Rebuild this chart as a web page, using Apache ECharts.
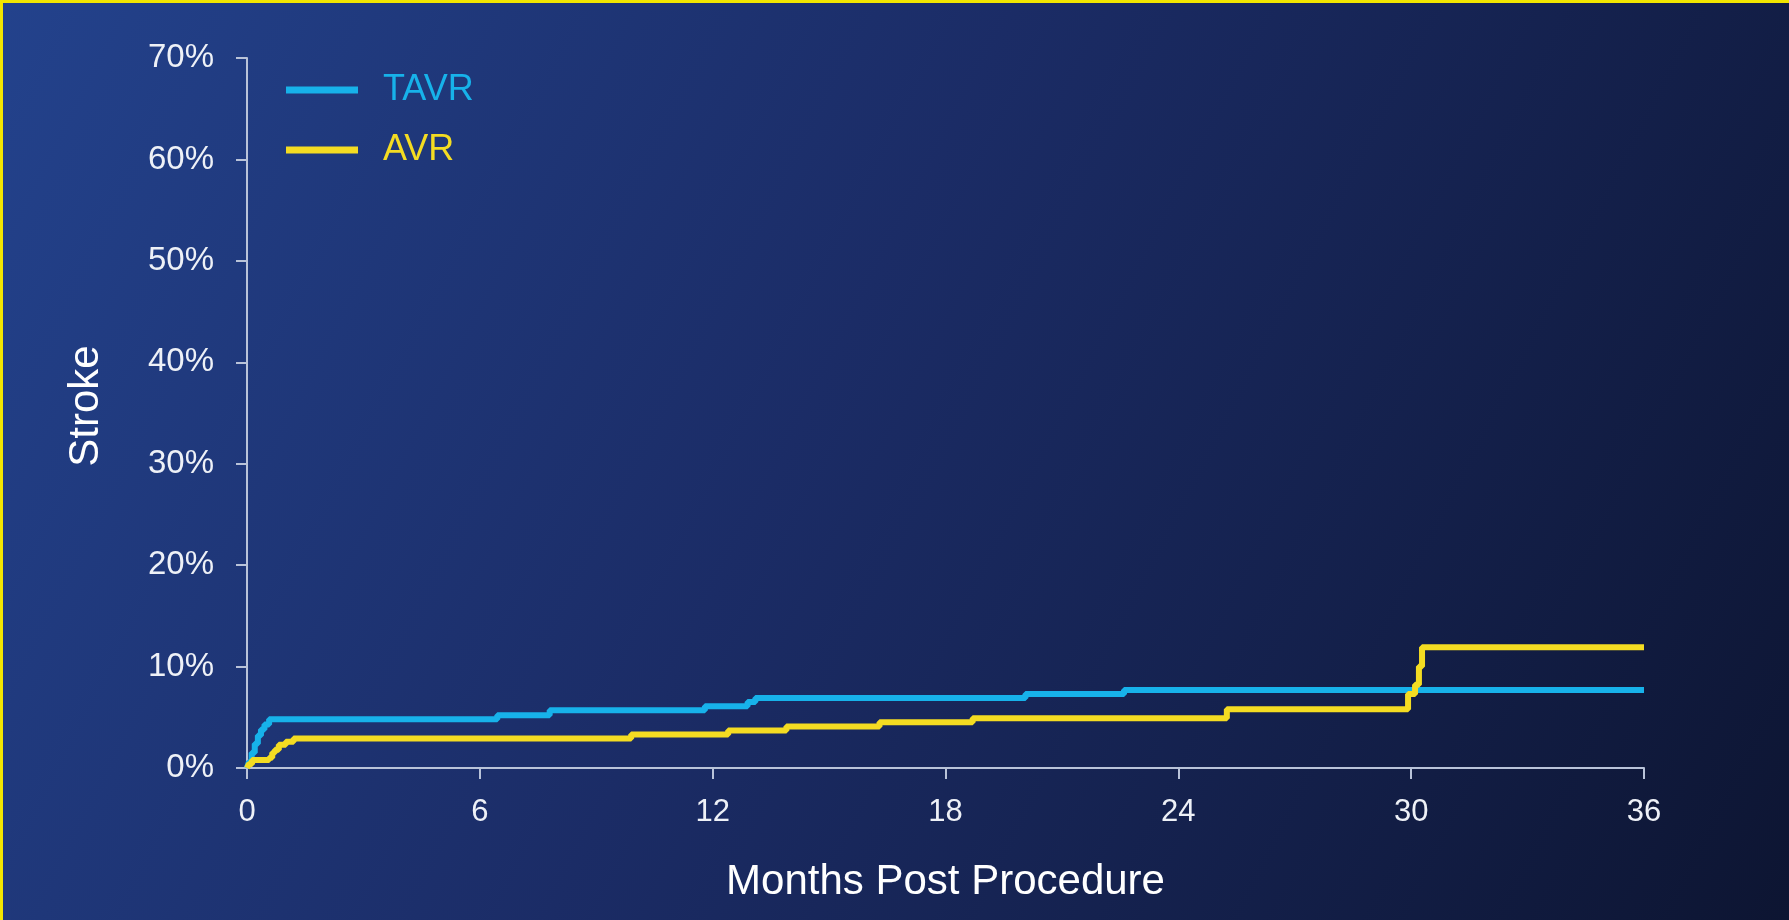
<!DOCTYPE html>
<html>
<head>
<meta charset="utf-8">
<title>Stroke</title>
<script src="https://cdn.jsdelivr.net/npm/echarts@6/dist/echarts.min.js"></script>
<style>
  html, body { margin: 0; padding: 0; width: 1789px; height: 920px; overflow: hidden; background: #0f1838; }
  #frame { position: absolute; left: 0; top: 0; width: 1786px; height: 917px; border-top: 3px solid #f2e600; border-left: 3px solid #f2e600; }
  #chart { width: 1786px; height: 917px; }
</style>
</head>
<body>
<div id="frame"><div id="chart"></div></div>
<script>
// Cumulative stroke incidence (%) by months after the procedure, as [month, percent] events
const seriesNames = ['TAVR', 'AVR'];
const tavr = [
  [0, 0], [0.05, 0.6], [0.12, 1.5], [0.2, 2.4], [0.28, 3.2], [0.36, 3.8], [0.45, 4.3], [0.57, 4.8],
  [6.45, 5.2], [7.8, 5.7], [11.8, 6.1], [12.9, 6.5], [13.1, 6.9], [20.06, 7.3], [22.6, 7.7], [36, 7.7]
];
const avr = [
  [0, 0], [0.05, 0.4], [0.13, 0.8], [0.57, 1.0], [0.65, 1.5], [0.72, 1.8], [0.82, 2.3], [1.0, 2.6], [1.2, 2.9],
  [9.9, 3.3], [12.4, 3.7], [13.9, 4.1], [16.3, 4.5], [18.7, 4.9], [25.25, 5.8],
  [29.92, 7.3], [30.1, 8.2], [30.2, 10.0], [30.28, 11.9], [36, 11.9]
];
const monthTicks = [0, 6, 12, 18, 24, 30, 36];
const percentTicks = [0, 10, 20, 30, 40, 50, 60, 70];

const colors = { TAVR: '#17b2ea', AVR: '#f4dc22' };
const font = '"Liberation Sans", Arial, sans-serif';
const axisColor = '#b9c3d9';

const chart = echarts.init(document.getElementById('chart'), null, { renderer: 'canvas' });
chart.setOption({
  animation: false,
  backgroundColor: {
    type: 'linear', x: 0, y: 0, x2: 1, y2: 1,
    colorStops: [
      { offset: 0, color: '#23428c' },
      { offset: 0.45, color: '#1b2c66' },
      { offset: 1, color: '#0d1532' }
    ]
  },
  legend: {
    orient: 'vertical',
    left: 283,
    top: 67,
    padding: 0,
    itemWidth: 72,
    itemHeight: 7,
    itemGap: 20,
    icon: 'rect',
    data: seriesNames.map(n => ({ name: n, textStyle: { color: colors[n] } })),
    textStyle: { fontFamily: font, fontSize: 36, lineHeight: 40, padding: [0, 0, 0, 20] }
  },
  grid: { left: 244, right: 145, top: 55, bottom: 152 },
  xAxis: {
    type: 'value',
    min: 0, max: 36, interval: 6,
    name: 'Months Post Procedure',
    nameLocation: 'middle',
    nameGap: 93,
    nameTextStyle: { color: '#ffffff', fontFamily: font, fontSize: 42 },
    axisLine: { show: true, lineStyle: { color: axisColor, width: 2 } },
    axisTick: { show: true, length: 11, lineStyle: { color: axisColor, width: 2 }, customValues: monthTicks },
    axisLabel: { color: '#eef1f7', fontFamily: font, fontSize: 31, margin: 29, customValues: monthTicks },
    splitLine: { show: false }
  },
  yAxis: {
    type: 'value',
    min: 0, max: 70, interval: 10,
    name: 'Stroke',
    nameLocation: 'middle',
    nameGap: 140,
    nameTextStyle: { color: '#ffffff', fontFamily: font, fontSize: 42, padding: [0, 0, 0, 14] },
    axisLine: { show: true, lineStyle: { color: axisColor, width: 2 } },
    axisTick: { show: true, length: 11, lineStyle: { color: axisColor, width: 2 }, customValues: percentTicks },
    axisLabel: { color: '#eef1f7', fontFamily: font, fontSize: 33, margin: 33, formatter: '{value}%', customValues: percentTicks },
    splitLine: { show: false }
  },
  series: [
    { name: 'TAVR', type: 'line', step: 'end', data: tavr, showSymbol: false, symbol: 'none',
      lineStyle: { color: colors.TAVR, width: 6 }, itemStyle: { color: colors.TAVR }, z: 3 },
    { name: 'AVR', type: 'line', step: 'end', data: avr, showSymbol: false, symbol: 'none',
      lineStyle: { color: colors.AVR, width: 6 }, itemStyle: { color: colors.AVR }, z: 4 }
  ]
});
</script>
</body>
</html>
